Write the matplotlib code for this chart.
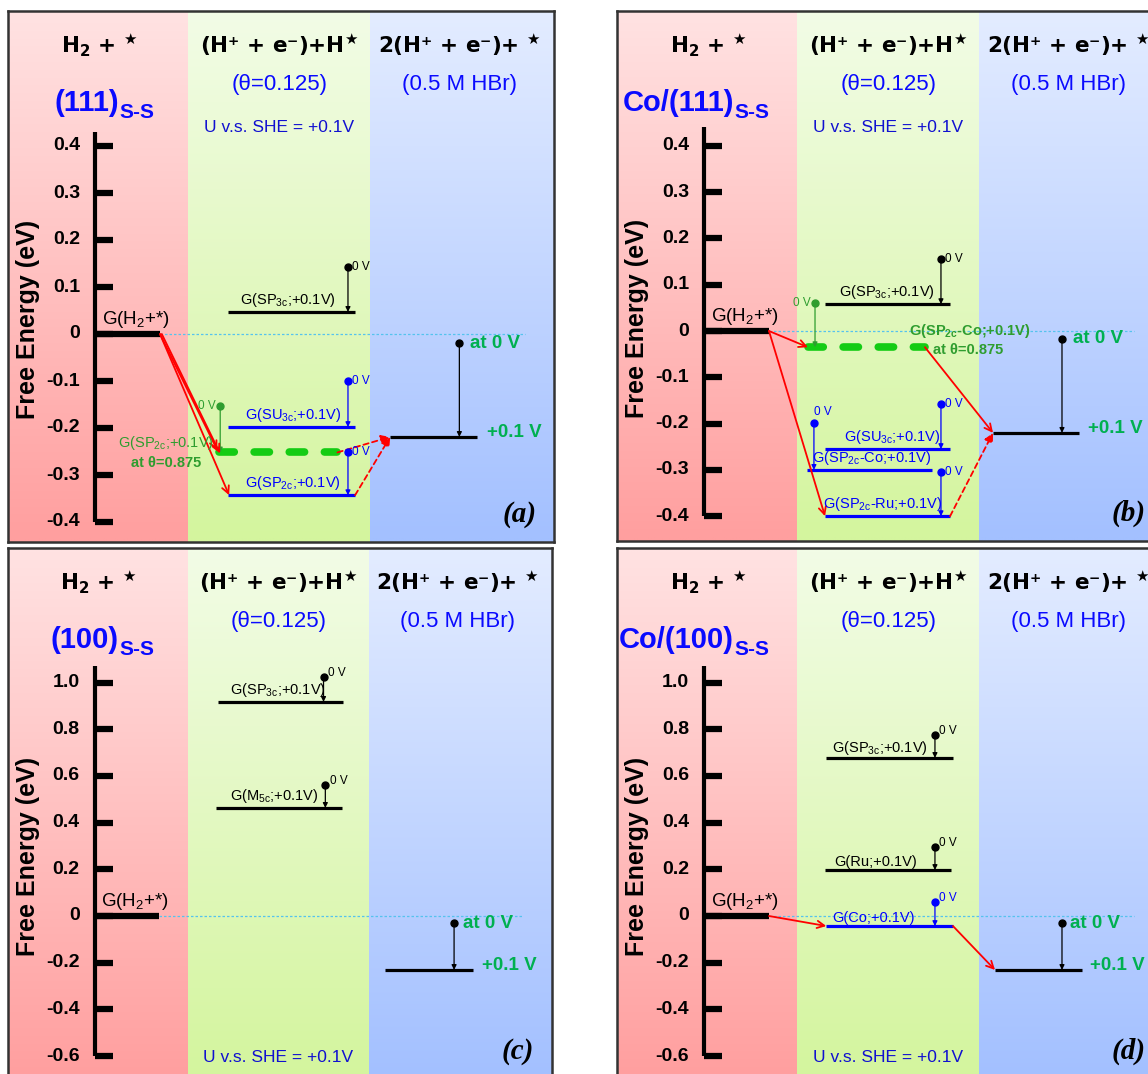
import numpy as np
import matplotlib
matplotlib.use("Agg")
import matplotlib.pyplot as plt
import matplotlib.transforms as mtransforms
from matplotlib import font_manager
from matplotlib.colors import to_rgb

plt.rcParams["font.family"] = ["Liberation Sans", "DejaVu Sans"]
plt.rcParams["mathtext.default"] = "regular"

# ---------------- data ----------------
headers = ["H$_2$ + $^{\\bigstar}$", "(H\u207a + e\u207b)+H$^{\\bigstar}$",
           "2(H\u207a + e\u207b)+ $^{\\bigstar}$"]
surfaces = ["(111)", "Co/(111)", "(100)", "Co/(100)"]
surface_sub = "S-S"
panel_tags = ["(a)", "(b)", "(c)", "(d)"]
theta_txt = "(\u03b8=0.125)"
electrolyte_txt = "(0.5 M HBr)"
potential_txt = "U v.s. SHE = +0.1V"
cov_txt = "at \u03b8=0.875"

ticks_111 = [0.4, 0.3, 0.2, 0.1, 0.0, -0.1, -0.2, -0.3, -0.4]
ticklabels_111 = ["0.4", "0.3", "0.2", "0.1", "0", "-0.1", "-0.2", "-0.3", "-0.4"]
ticks_100 = [1.0, 0.8, 0.6, 0.4, 0.2, 0.0, -0.2, -0.4, -0.6]
ticklabels_100 = ["1.0", "0.8", "0.6", "0.4", "0.2", "0", "-0.2", "-0.4", "-0.6"]

g_h2 = 0.0

# (a) (111)s-s
a_names = ["G(SP$_{3c}$;+0.1V)", "G(SU$_{3c}$;+0.1V)", "G(SP$_{2c}$;+0.1V)"]
a_g_0V = [0.143, -0.100, -0.251]
a_g_01V = [0.047, -0.198, -0.343]
a_colors = ["black", "blue", "blue"]
a_cov_name = "G(SP$_{2c}$;+0.1V)"
a_cov_0V, a_cov_01V = -0.153, -0.252
a_final = [-0.020, -0.219]

# (b) Co/(111)s-s
b_names = ["G(SP$_{3c}$;+0.1V)", "G(SU$_{3c}$;+0.1V)",
           "G(SP$_{2c}$-Co;+0.1V)", "G(SP$_{2c}$-Ru;+0.1V)"]
b_g_0V = [0.155, -0.158, -0.199, -0.305]
b_g_01V = [0.058, -0.255, -0.300, -0.400]
b_colors = ["black", "blue", "blue", "blue"]
b_cov_name = "G(SP$_{2c}$-Co;+0.1V)"
b_cov_0V, b_cov_01V = 0.060, -0.035
b_final = [-0.017, -0.220]

# (c) (100)s-s
c_names = ["G(SP$_{3c}$;+0.1V)", "G(M$_{5c}$;+0.1V)"]
c_g_0V = [1.024, 0.561]
c_g_01V = [0.917, 0.463]
c_colors = ["black", "black"]
c_final = [-0.030, -0.231]

# (d) Co/(100)s-s
d_names = ["G(SP$_{3c}$;+0.1V)", "G(Ru;+0.1V)", "G(Co;+0.1V)"]
d_g_0V = [0.775, 0.296, 0.060]
d_g_01V = [0.677, 0.197, -0.043]
d_colors = ["black", "black", "blue"]
d_final = [-0.030, -0.231]

# ---------------- styling ----------------
try:
    font_manager.findfont("Liberation Sans Narrow", fallback_to_default=False)
    NARROW, LSZ = "Liberation Sans Narrow", 12
except ValueError:
    NARROW, LSZ = "Liberation Sans", 10.5

GREEN_TXT = "#00b050"
GREEN_LVL = "#14cc14"
GREEN_LAB = "#2f9d2f"
BLUE_TXT = "#0a0aff"
col_spans = [(0, 0.99), (0.99, 1.99), (1.99, 3.0)]
col_colors = [("#ffe2e2", "#ff9f9f"), ("#f2fce6", "#d4f59e"), ("#e3ecff", "#a3c0ff")]
col_centers = [0.5, 1.49, 2.48]
AX_X = 0.478
BAR_END = 0.835

W, H = 1148, 1074
fig = plt.figure(figsize=(W / 100, H / 100), dpi=100)


def make_panel(left, top, w, h, zero_px, ppe):
    ax = fig.add_axes([left / W, 1 - (top + h) / H, w / W, h / H])
    lo = -(top + h - zero_px) / ppe
    hi = (zero_px - top) / ppe
    for (c0, c1), (ct, cb) in zip(col_spans, col_colors):
        grad = np.linspace(to_rgb(ct), to_rgb(cb), 64)[:, None, :]
        ax.imshow(grad, extent=[c0, c1, lo, hi], aspect="auto", origin="upper",
                  interpolation="bilinear", zorder=0)
    ax.set_xlim(0, 3)
    ax.set_ylim(lo, hi)
    ax.set_xticks([])
    ax.set_yticks([])
    for s in ax.spines.values():
        s.set_color("#333333")
        s.set_linewidth(1.8)
    tr = mtransforms.blended_transform_factory(ax.transData, ax.transAxes)
    return ax, tr


def energy_axis(ax, tr, ticks, labels, top):
    ax.plot([AX_X, AX_X], [min(ticks), top], color="k", lw=3,
            solid_capstyle="butt", zorder=3)
    ax.hlines(ticks, AX_X, AX_X + 0.1, color="k", lw=4.5, zorder=3)
    for t, l in zip(ticks, labels):
        ax.text(0.395, t, l, ha="right", va="center", fontsize=14,
                fontweight="bold", zorder=3)
    ax.text(0.11, 0.42, "Free Energy (eV)", transform=tr, rotation=90,
            ha="center", va="center", fontsize=18, fontweight="bold")
    # G(H2+*) reference level and the dotted zero line
    ax.plot([AX_X, BAR_END], [g_h2, g_h2], color="k", lw=4.5,
            solid_capstyle="butt", zorder=4)
    ax.annotate("G(H$_2$+*)", (0.70, g_h2), xytext=(0, 3),
                textcoords="offset points", ha="center", va="bottom", fontsize=13.5)
    ax.plot([BAR_END, 2.84], [g_h2, g_h2], color="#55c3ee", lw=0.9,
            ls=(0, (2, 1.6)), zorder=2)


def headings(ax, tr, surface, split_x, top_row, tag):
    for cx, hd in zip(col_centers, headers):
        ax.text(cx, 0.936, hd, transform=tr, ha="center", va="center",
                fontsize=15.5, fontweight="bold", family="DejaVu Sans")
    ax.text(col_centers[1], 0.861, theta_txt, transform=tr, ha="center",
            va="center", fontsize=16, color=BLUE_TXT)
    ax.text(col_centers[2], 0.861, electrolyte_txt, transform=tr, ha="center",
            va="center", fontsize=16, color=BLUE_TXT)
    ax.text(split_x, 0.812, surface, transform=tr, ha="right", va="baseline",
            fontsize=21, fontweight="bold", color=BLUE_TXT)
    ax.annotate(surface_sub, (split_x, 0.812), xycoords=tr, xytext=(0.5, -5),
                textcoords="offset points", ha="left", va="baseline",
                fontsize=15, fontweight="bold", color=BLUE_TXT)
    ax.text(col_centers[1], 0.78 if top_row else 0.04, potential_txt, transform=tr,
            ha="center", va="center", fontsize=12.5, color="#1010d0")
    ax.text(2.81, 0.052, tag, transform=tr, ha="center", va="center", fontsize=21,
            family="Liberation Serif", style="italic", fontweight="bold")


def level(ax, x0, x1, g, color):
    ax.plot([x0, x1], [g, g], color=color, lw=2.3, solid_capstyle="butt", zorder=4)


def level_label(ax, x, g, text, color, dy=2, weight="normal"):
    ax.annotate(text, (x, g), xytext=(0, dy), textcoords="offset points",
                ha="center", va="bottom", fontsize=LSZ, color=color,
                family=NARROW, fontweight=weight, zorder=6)


def drop(ax, x, g0, g1, color, off=(3, 0), ha="left", va="center"):
    ax.annotate("", xy=(x, g1), xytext=(x, g0),
                arrowprops=dict(arrowstyle="-|>", color=color, lw=0.9,
                                mutation_scale=7, shrinkA=0, shrinkB=0), zorder=5)
    ax.plot(x, g0, "o", color=color, ms=5, zorder=6)
    ax.annotate("0 V", (x, g0), xytext=off, textcoords="offset points", ha=ha,
                va=va, fontsize=8.5, color=color, family=NARROW, zorder=6)


def red_arrow(ax, p0, p1, dashed=False):
    ax.annotate("", xy=p1, xytext=p0,
                arrowprops=dict(arrowstyle="-|>" if dashed else "->", color="red",
                                lw=1.3, ls=(0, (3, 2)) if dashed else "-",
                                mutation_scale=13, shrinkA=0, shrinkB=0), zorder=5)


def coverage_level(ax, x0, x1, g):
    ax.plot([x0, x1], [g, g], color=GREEN_LVL, lw=5.5, dash_capstyle="round",
            dashes=(2.0, 2.6), zorder=4)


def final_state(ax, x0, x1, xd, g0, g1, xt0, xt1):
    ax.plot([x0, x1], [g1, g1], color="k", lw=2.3, solid_capstyle="butt", zorder=4)
    ax.annotate("", xy=(xd, g1), xytext=(xd, g0),
                arrowprops=dict(arrowstyle="-|>", color="k", lw=0.9,
                                mutation_scale=7, shrinkA=0, shrinkB=0), zorder=5)
    ax.plot(xd, g0, "o", color="k", ms=5, zorder=6)
    ax.text(xt0, g0, "at 0 V", ha="left", va="center", fontsize=13.5,
            fontweight="bold", color=GREEN_TXT)
    ax.annotate("+0.1 V", (xt1, g1), xytext=(0, 3), textcoords="offset points",
                ha="left", va="center", fontsize=13.5, fontweight="bold",
                color=GREEN_TXT)


# ---------------- (a) ----------------
ax, tr = make_panel(8, 11, 546, 531, 334, 470)
energy_axis(ax, tr, ticks_111, ticklabels_111, 0.43)
headings(ax, tr, surfaces[0], 0.61, True, panel_tags[0])
a_lab_x = [1.54, 1.566, 1.566]
for name, g0, g1, c, lx in zip(a_names, a_g_0V, a_g_01V, a_colors, a_lab_x):
    level(ax, 1.209, 1.907, g1, c)
    level_label(ax, lx, g1, name, c)
    drop(ax, 1.868, g0, g1, c)
coverage_level(ax, 1.16, 1.81, a_cov_01V)
drop(ax, 1.166, a_cov_0V, a_cov_01V, GREEN_LAB, off=(-3, 0), ha="right")
ax.text(0.87, -0.232, a_cov_name, ha="center", va="center", fontsize=LSZ,
        color=GREEN_LAB, family=NARROW, zorder=6)
ax.text(0.87, -0.274, cov_txt, ha="center", va="center", fontsize=LSZ,
        color=GREEN_LAB, family=NARROW, fontweight="bold", zorder=6)
final_state(ax, 2.10, 2.577, 2.48, a_final[0], a_final[1], 2.54, 2.63)
red_arrow(ax, (BAR_END, g_h2), (1.15, a_cov_01V + 0.005))
red_arrow(ax, (BAR_END + 0.01, g_h2), (1.165, a_cov_01V - 0.002))
red_arrow(ax, (BAR_END, g_h2), (1.215, a_g_01V[2]))
red_arrow(ax, (1.81, a_cov_01V), (2.10, a_final[1]), dashed=True)
red_arrow(ax, (1.907, a_g_01V[2]), (2.10, a_final[1]), dashed=True)

# ---------------- (b) ----------------
ax, tr = make_panel(617, 11, 546, 530, 331, 463)
energy_axis(ax, tr, ticks_111, ticklabels_111, 0.44)
headings(ax, tr, surfaces[1], 0.643, True, panel_tags[1])
b_x0 = [1.143, 1.143, 1.044, 1.143]
b_x1 = [1.83, 1.83, 1.73, 1.83]
b_xd = [1.78, 1.78, 1.082, 1.78]
b_lab_x = [1.484, 1.51, 1.40, 1.46]
for i, (name, g0, g1, c) in enumerate(zip(b_names, b_g_0V, b_g_01V, b_colors)):
    level(ax, b_x0[i], b_x1[i], g1, c)
    level_label(ax, b_lab_x[i], g1, name, c)
    if i == 2:
        drop(ax, b_xd[i], g0, g1, c, off=(0, 4), ha="left", va="bottom")
    else:
        drop(ax, b_xd[i], g0, g1, c)
coverage_level(ax, 1.049, 1.692, b_cov_01V)
drop(ax, 1.088, b_cov_0V, b_cov_01V, GREEN_LAB, off=(-3, 0), ha="right")
ax.text(1.94, 0.0, b_cov_name, ha="center", va="center", fontsize=LSZ,
        color=GREEN_LAB, family=NARROW, fontweight="bold", zorder=6)
ax.text(1.93, -0.041, cov_txt, ha="center", va="center", fontsize=LSZ,
        color=GREEN_LAB, family=NARROW, fontweight="bold", zorder=6)
final_state(ax, 2.066, 2.538, 2.445, b_final[0], b_final[1], 2.505, 2.59)
red_arrow(ax, (BAR_END, g_h2), (1.049, b_cov_01V))
red_arrow(ax, (BAR_END, g_h2), (1.143, b_g_01V[3]))
red_arrow(ax, (1.692, b_cov_01V), (2.066, b_final[1]))
red_arrow(ax, (1.83, b_g_01V[3]), (2.066, b_final[1]), dashed=True)

# ---------------- (c) ----------------
ax, tr = make_panel(8, 548, 544, 531, 916, 233.5)
energy_axis(ax, tr, ticks_100, ticklabels_100, 1.07)
headings(ax, tr, surfaces[2], 0.61, False, panel_tags[2])
c_x0 = [1.16, 1.148]
c_x1 = [1.85, 1.84]
c_xd = [1.74, 1.75]
c_lab_x = [1.49, 1.47]
for i, (name, g0, g1, c) in enumerate(zip(c_names, c_g_0V, c_g_01V, c_colors)):
    level(ax, c_x0[i], c_x1[i], g1, c)
    level_label(ax, c_lab_x[i], g1, name, c)
    drop(ax, c_xd[i], g0, g1, c, off=(3, 3))
final_state(ax, 2.08, 2.566, 2.46, c_final[0], c_final[1], 2.51, 2.615)

# ---------------- (d) ----------------
ax, tr = make_panel(617, 548, 546, 531, 916, 233.5)
energy_axis(ax, tr, ticks_100, ticklabels_100, 1.07)
headings(ax, tr, surfaces[3], 0.643, False, panel_tags[3])
d_x0 = [1.15, 1.143, 1.15]
d_x1 = [1.846, 1.835, 1.846]
d_lab_x = [1.445, 1.42, 1.41]
for i, (name, g0, g1, c) in enumerate(zip(d_names, d_g_0V, d_g_01V, d_colors)):
    level(ax, d_x0[i], d_x1[i], g1, c)
    level_label(ax, d_lab_x[i], g1, name, c, dy=1)
    drop(ax, 1.747, g0, g1, c, off=(3, 3))
final_state(ax, 2.077, 2.555, 2.445, d_final[0], d_final[1], 2.49, 2.60)
red_arrow(ax, (BAR_END, g_h2), (1.15, d_g_01V[2]))
red_arrow(ax, (1.846, d_g_01V[2]), (2.077, d_final[1]))

fig.savefig("out.png", dpi=100)
